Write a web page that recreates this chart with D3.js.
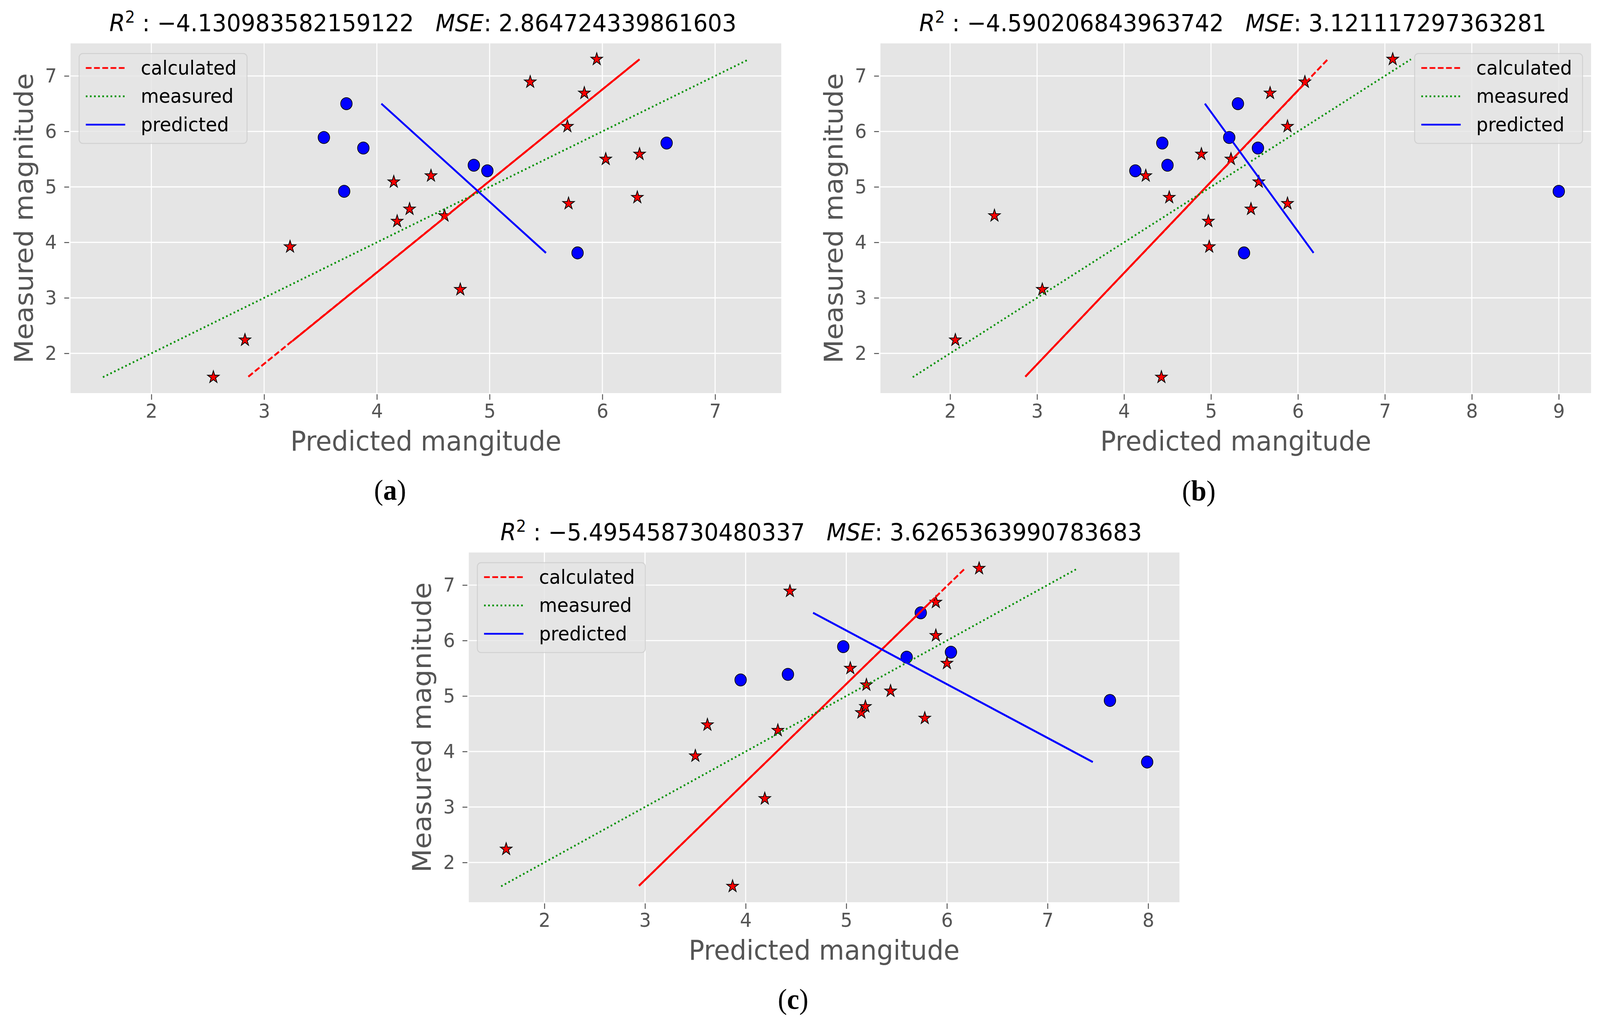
<!DOCTYPE html>
<html><head><meta charset="utf-8">
<script src="https://cdn.jsdelivr.net/npm/d3@7"></script>
<style>html,body{margin:0;padding:0;background:#fff;overflow:hidden;width:100%;height:100%}svg{display:block;width:100vw;height:100vh}</style>
</head><body><svg id="chart"></svg>
<script>
// ---------------- data ----------------
const panelNames = ["a", "b", "c"];
const r2Text  = ["\u22124.130983582159122", "\u22124.590206843963742", "\u22125.495458730480337"];
const mseText = ["2.864724339861603", "3.121117297363281", "3.6265363990783683"];
const yTicks  = [2, 3, 4, 5, 6, 7];
const xTicksA = [2, 3, 4, 5, 6, 7];
const xTicksB = [2, 3, 4, 5, 6, 7, 8, 9];
const xTicksC = [2, 3, 4, 5, 6, 7, 8];
const legendLabels = ["calculated", "measured", "predicted"];

// star markers: measured magnitude (y) and predicted magnitude (x) per panel
const starMeasured = [7.3, 6.89, 6.69, 6.09, 5.5, 5.59, 5.09, 5.2, 4.6, 4.38, 4.48, 4.7, 4.81, 3.92, 3.15, 2.24, 1.57];
const starPredA = [5.95, 5.36, 5.84, 5.69, 6.03, 6.33, 4.15, 4.48, 4.29, 4.18, 4.6, 5.7, 6.31, 3.23, 4.74, 2.83, 2.55];
const starPredB = [7.09, 6.08, 5.68, 5.88, 5.23, 4.89, 5.55, 4.25, 5.46, 4.97, 2.51, 5.88, 4.52, 4.98, 3.06, 2.06, 4.43];
const starPredC = [6.32, 4.44, 5.89, 5.89, 5.04, 6.0, 5.44, 5.2, 5.78, 4.32, 3.62, 5.15, 5.19, 3.5, 4.19, 1.62, 3.87];

// circle markers
const circleMeasured = [6.5, 5.89, 5.7, 5.79, 5.39, 5.29, 4.92, 3.81];
const circlePredA = [3.73, 3.53, 3.88, 6.57, 4.86, 4.98, 3.71, 5.78];
const circlePredB = [5.31, 5.21, 5.54, 4.44, 4.5, 4.13, 9.0, 5.38];
const circlePredC = [5.74, 4.97, 5.6, 6.04, 4.42, 3.95, 7.62, 7.99];

// "measured" line (y = x)
const measuredLineX = [1.57, 7.3];
const measuredLineY = [1.57, 7.3];

// "calculated" line (dashed; overlapping dashes make most of it look solid)
const calcXA = [2.86, 6.33], calcYA = [1.58, 7.3], calcSolidXA = [3.25, 6.33], calcSolidYA = [2.22, 7.3];
const calcXB = [2.865, 6.344], calcYB = [1.58, 7.3], calcSolidXB = [2.865, 6.08], calcSolidYB = [1.58, 6.87];
const calcXC = [2.94, 6.18], calcYC = [1.58, 7.3], calcSolidXC = [2.94, 5.88], calcSolidYC = [1.58, 6.77];

// "predicted" line
const predXA = [4.04, 5.5], predXB = [4.93, 6.18], predXC = [4.67, 7.45];
const predY = [6.5, 3.81];

// ---------------- layout ----------------
const W = 4307, H = 2636;
const PW = 1913, PH = 895;
const layout = [
  {left: 190,  top: 111,  capX: 1050, capY: 1279, legend: "left"},
  {left: 2370, top: 111,  capX: 3227, capY: 1281, legend: "right"},
  {left: 1262, top: 1414, capX: 2135, capY: 2582, legend: "left"}
];
const xTicksAll = [xTicksA, xTicksB, xTicksC];
const starPredAll = [starPredA, starPredB, starPredC];
const circlePredAll = [circlePredA, circlePredB, circlePredC];
const calcAll = [[calcXA, calcYA, calcSolidXA, calcSolidYA], [calcXB, calcYB, calcSolidXB, calcSolidYB], [calcXC, calcYC, calcSolidXC, calcSolidYC]];
const predXAll = [predXA, predXB, predXC];

const FONT = "'DejaVu Sans', sans-serif";
const svg = d3.select("#chart").attr("viewBox", `0 0 ${W} ${H}`).attr("preserveAspectRatio", "none");
svg.append("rect").attr("width", W).attr("height", H).attr("fill", "#fff");

function starPath(r) {
  const pts = [];
  for (let i = 0; i < 10; i++) {
    const rr = i % 2 === 0 ? r : r * 0.381966;
    const a = -Math.PI / 2 + i * Math.PI / 5;
    pts.push([rr * Math.cos(a), rr * Math.sin(a)]);
  }
  return "M" + pts.map(p => p[0].toFixed(2) + "," + p[1].toFixed(2)).join("L") + "Z";
}
const STAR = starPath(16.5);

function extentPad(arrs) {
  const all = arrs.flat();
  const lo = d3.min(all), hi = d3.max(all), m = (hi - lo) * 0.05;
  return [lo - m, hi + m];
}

panelNames.forEach((name, i) => {
  const L = layout[i];
  const g = svg.append("g").attr("transform", `translate(${L.left},${L.top})`);
  const xDom = extentPad([measuredLineX, starPredAll[i], circlePredAll[i], calcAll[i][0], predXAll[i]]);
  const yDom = extentPad([measuredLineY, starMeasured, circleMeasured]);
  const x = d3.scaleLinear().domain(xDom).range([0, PW]);
  const y = d3.scaleLinear().domain(yDom).range([PH, 0]);

  g.append("rect").attr("width", PW).attr("height", PH).attr("fill", "#e5e5e5");
  g.append("g").selectAll("line").data(xTicksAll[i]).join("line")
    .attr("x1", d => x(d)).attr("x2", d => x(d)).attr("y1", 0).attr("y2", PH)
    .attr("stroke", "#fff").attr("stroke-width", 2.8);
  g.append("g").selectAll("line").data(yTicks).join("line")
    .attr("y1", d => y(d)).attr("y2", d => y(d)).attr("x1", 0).attr("x2", PW)
    .attr("stroke", "#fff").attr("stroke-width", 2.8);

  const xa = g.append("g").attr("transform", `translate(0,${PH + 3})`)
    .call(d3.axisBottom(x).tickValues(xTicksAll[i]).tickSize(14).tickPadding(11).tickFormat(d3.format("d")));
  const ya = g.append("g").attr("transform", `translate(-4,0)`)
    .call(d3.axisLeft(y).tickValues(yTicks).tickSize(13).tickPadding(20).tickFormat(d3.format("d")));
  [xa, ya].forEach(a => {
    a.select(".domain").remove();
    a.selectAll(".tick line").attr("stroke", "#555").attr("stroke-width", 2.5);
    a.selectAll(".tick text").attr("fill", "#555").style("font-family", FONT).style("font-size", "50px");
  });

  // markers (drawn under the lines, as in matplotlib)
  const stars = starPredAll[i].map((v, k) => [v, starMeasured[k]]);
  g.append("g").selectAll("path").data(stars).join("path")
    .attr("d", STAR).attr("transform", d => `translate(${x(d[0])},${y(d[1])})`)
    .attr("fill", "#ff0000").attr("stroke", "#000").attr("stroke-width", 2);
  const circles = circlePredAll[i].map((v, k) => [v, circleMeasured[k]]);
  g.append("g").selectAll("circle").data(circles).join("circle")
    .attr("cx", d => x(d[0])).attr("cy", d => y(d[1])).attr("r", 15.5)
    .attr("fill", "#0000ff").attr("stroke", "#000").attr("stroke-width", 1.8);

  const line = d3.line().x(d => x(d[0])).y(d => y(d[1]));
  const zip = (a, b) => a.map((v, k) => [v, b[k]]);
  const c = calcAll[i];
  g.append("path").attr("d", line(zip(c[0], c[1]))).attr("fill", "none")
    .attr("stroke", "#ff0000").attr("stroke-width", 5).attr("stroke-dasharray", "15.5,6.7");
  g.append("path").attr("d", line(zip(c[2], c[3]))).attr("fill", "none")
    .attr("stroke", "#ff0000").attr("stroke-width", 5);
  g.append("path").attr("d", line(zip(measuredLineX, measuredLineY))).attr("fill", "none")
    .attr("stroke", "#009100").attr("stroke-width", 4.6).attr("stroke-dasharray", "4.4,6.7");
  g.append("path").attr("d", line(zip(predXAll[i], predY))).attr("fill", "none")
    .attr("stroke", "#0000ff").attr("stroke-width", 5);

  // legend
  const LW = 452, LH = 230;
  const lx = L.legend === "left" ? 23 : PW - 23 - LW, ly = 26;
  const lg = g.append("g").attr("transform", `translate(${lx},${ly})`);
  lg.append("rect").attr("width", LW).attr("height", LH).attr("rx", 10)
    .attr("fill", "#e5e5e5").attr("fill-opacity", 0.8).attr("stroke", "#cccccc").attr("stroke-opacity", 0.8).attr("stroke-width", 2.5);
  const legStyles = [
    {color: "#ff0000", dash: "15.5,6.7", w: 4.5},
    {color: "#009100", dash: "4.4,6.7", w: 4.5},
    {color: "#0000ff", dash: null, w: 4.5}
  ];
  legendLabels.forEach((lab, k) => {
    const yy = 37 + k * 72.5;
    lg.append("line").attr("x1", 18).attr("x2", 124).attr("y1", yy).attr("y2", yy)
      .attr("stroke", legStyles[k].color).attr("stroke-width", legStyles[k].w)
      .attr("stroke-dasharray", legStyles[k].dash);
    lg.append("text").attr("x", 166).attr("y", yy + 17).text(lab)
      .attr("fill", "#000").style("font-family", FONT).style("font-size", "50px");
  });

  // title
  const t = g.append("text").attr("x", PW / 2 - 8).attr("y", -31).attr("text-anchor", "middle")
    .attr("fill", "#000").style("font-family", FONT).style("font-size", "61px");
  t.append("tspan").attr("font-style", "italic").text("R");
  t.append("tspan").attr("dy", -22).style("font-size", "42px").text("2");
  t.append("tspan").attr("dy", 22).text(" : " + r2Text[i] + "\u00a0\u00a0\u00a0");
  t.append("tspan").attr("font-style", "italic").text("MSE");
  t.append("tspan").text(": " + mseText[i]);

  // axis labels
  g.append("text").attr("x", PW / 2).attr("y", PH + 147).attr("text-anchor", "middle")
    .attr("fill", "#555").style("font-family", FONT).style("font-size", "70px").text("Predicted mangitude");
  g.append("text").attr("transform", `translate(-102,${PH / 2}) rotate(-90)`).attr("text-anchor", "middle")
    .attr("fill", "#555").style("font-family", FONT).style("font-size", "70px").text("Measured magnitude");

  // caption
  const cap = svg.append("text").attr("x", L.capX).attr("y", L.capY).attr("text-anchor", "middle")
    .attr("fill", "#000").style("font-family", "'Liberation Serif', 'Times New Roman', serif").style("font-size", "74px");
  cap.append("tspan").text("(");
  cap.append("tspan").attr("font-weight", "bold").text(name);
  cap.append("tspan").text(")");
});
</script>
</body></html>
